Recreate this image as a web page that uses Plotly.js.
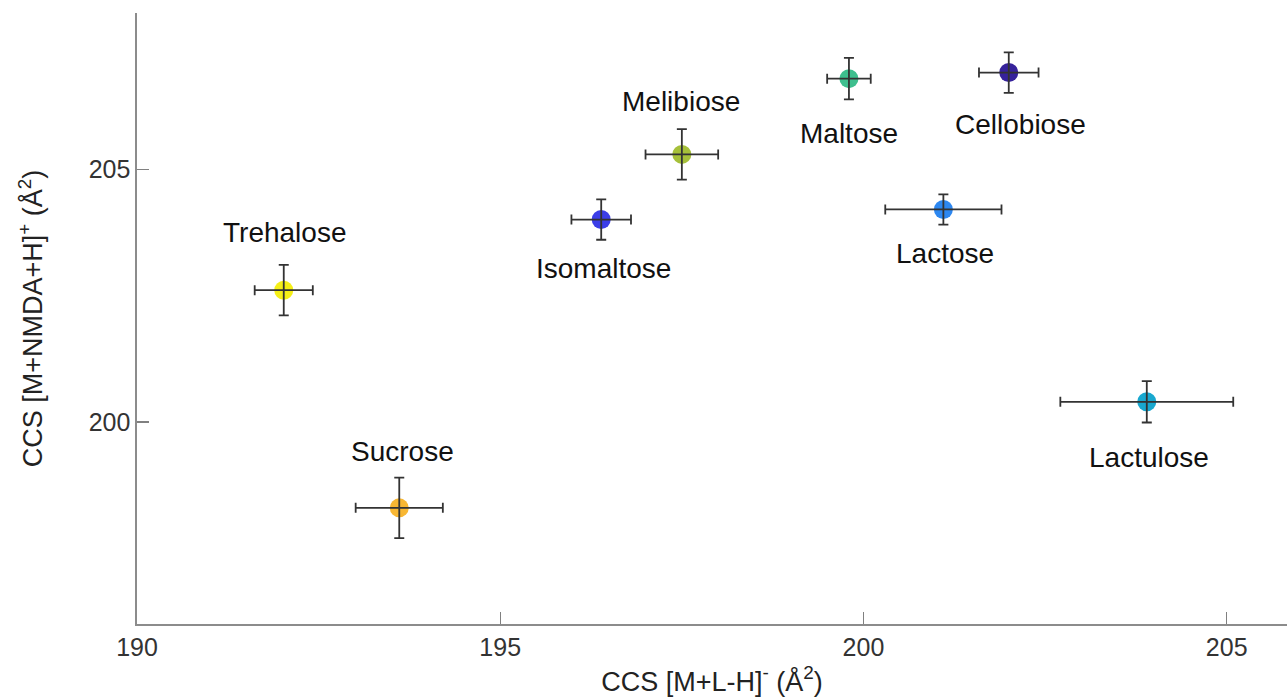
<!DOCTYPE html>
<html>
<head>
<meta charset="utf-8">
<script src="https://cdn.plot.ly/plotly-3.0.1.min.js"></script>
<style>html,body{margin:0;padding:0;background:#fff;}#chart{width:1287px;height:698px;}</style>
</head>
<body>
<div id="chart"></div>
<script>
// ---- data ----
const sugars = ["Trehalose","Sucrose","Isomaltose","Melibiose","Maltose","Cellobiose","Lactose","Lactulose"];
const ccsNeg = [192.02, 193.61, 196.39, 197.50, 199.80, 202.00, 201.10, 203.90];   // CCS [M+L-H]-
const ccsNegErr = [0.40, 0.60, 0.41, 0.50, 0.30, 0.41, 0.80, 1.19];
const ccsPos = [202.61, 198.30, 204.01, 205.30, 206.80, 206.92, 204.21, 200.40];   // CCS [M+NMDA+H]+
const ccsPosErr = [0.50, 0.60, 0.40, 0.50, 0.41, 0.40, 0.30, 0.41];
const xTicks = [190, 195, 200, 205];
const yTicks = [200, 205];

// ---- styling ----
const colors = ["#f5ef17", "#f8b733", "#3b3ee8", "#a6c03a", "#3ebf8e", "#36229b", "#2d87f0", "#19a8cf"];
const labelShift = { // [xshift, yshift] in px
  Trehalose: [1, 58], Sucrose: [3, 56], Isomaltose: [2, -49], Melibiose: [-1, 53],
  Maltose: [0, -55], Cellobiose: [12, -52], Lactose: [2, -44], Lactulose: [2, -56]
};
const FONT = "Liberation Sans, Arial, sans-serif";

const markerTrace = {
  type: "scatter", mode: "markers", x: ccsNeg, y: ccsPos, text: sugars,
  marker: {size: 19, color: colors, line: {width: 0}},
  hoverinfo: "text+x+y", showlegend: false
};
const errTrace = {
  type: "scatter", mode: "markers", x: ccsNeg, y: ccsPos,
  marker: {size: 1, opacity: 0},
  error_x: {type: "data", array: ccsNegErr, visible: true, color: "#333333", thickness: 1.8, width: 5},
  error_y: {type: "data", array: ccsPosErr, visible: true, color: "#333333", thickness: 1.8, width: 5},
  hoverinfo: "skip", showlegend: false
};

const annotations = sugars.map((s, i) => ({
  x: ccsNeg[i], y: ccsPos[i], xref: "x", yref: "y", text: s, showarrow: false,
  xshift: labelShift[s][0], yshift: labelShift[s][1],
  font: {family: FONT, size: 28, color: "#111111"}
}));

const layout = {
  width: 1287, height: 698,
  margin: {l: 137, r: 0, t: 13, b: 74},
  paper_bgcolor: "#ffffff", plot_bgcolor: "#ffffff",
  font: {family: FONT},
  xaxis: {
    range: [190, 205.83], tickvals: xTicks, ticktext: xTicks.map(String),
    ticks: "inside", ticklen: 12, tickwidth: 1.3, tickcolor: "#808080",
    showline: true, linecolor: "#8c8c8c", linewidth: 1.6, showgrid: false, zeroline: false,
    tickfont: {family: FONT, size: 25, color: "#333333"},
    title: {text: "CCS [M+L-H]<sup>-</sup> (Å<sup>2</sup>)", font: {family: FONT, size: 27, color: "#222222"}, standoff: 12}
  },
  yaxis: {
    range: [196, 208.1], tickvals: yTicks, ticktext: yTicks.map(String),
    ticks: "inside", ticklen: 12, tickwidth: 1.3, tickcolor: "#808080",
    showline: true, linecolor: "#8c8c8c", linewidth: 1.6, showgrid: false, zeroline: false,
    tickfont: {family: FONT, size: 25, color: "#333333"},
    title: {text: "CCS [M+NMDA+H]<sup>+</sup> (Å<sup>2</sup>)", font: {family: FONT, size: 27, color: "#222222"}, standoff: 38}
  },
  annotations: annotations
};

Plotly.newPlot("chart", [markerTrace, errTrace], layout, {displayModeBar: false, staticPlot: true});
</script>
</body>
</html>
